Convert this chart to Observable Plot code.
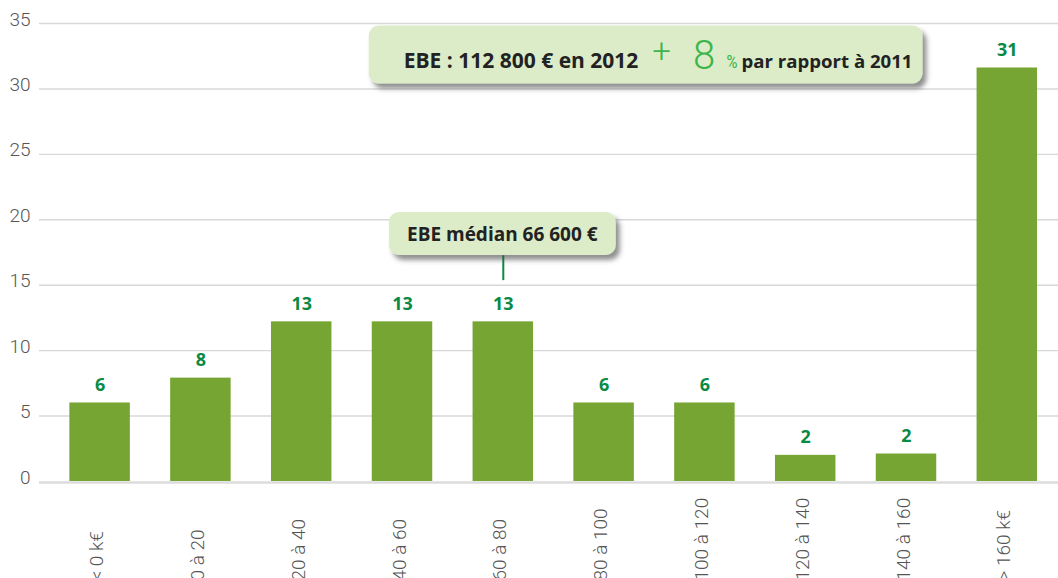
<!DOCTYPE html>
<html><head><meta charset="utf-8">
<script src="https://cdn.jsdelivr.net/npm/d3@7"></script>
<script src="https://cdn.jsdelivr.net/npm/@observablehq/plot@0.6"></script>
<style>
html,body{margin:0;padding:0;background:#fff;overflow:hidden}
</style></head><body><div id="chart"></div>
<script>
// ---- data ----
const categories = ["< 0 k€","0 à 20","20 à 40","40 à 60","60 à 80","80 à 100","100 à 120","120 à 140","140 à 160","> 160 k€"];
const barValues = [6.0, 7.9, 12.2, 12.2, 12.2, 6.0, 6.0, 2.0, 2.1, 31.6];
const valueLabels = ["6","8","13","13","13","6","6","2","2","31"];
const yTicks = [0,5,10,15,20,25,30,35];
const medianCategory = "60 à 80";
const medianLabel = "EBE médian 66 600 €";
const medianLabelY = 18.35;
const medianStem = [15.35, 17.25];
const headlineParts = ["EBE : 112 800 € en 2012", "+", "8", "%", "par rapport à 2011"];
const headlineCategory = "80 à 100";
const headlineY = 31.6;

const rows = categories.map((c, i) => ({cat: c, value: barValues[i], label: valueLabels[i]}));
const headlineText = headlineParts.join(" ");

const BAR = "#76a533", LABEL = "#0a8a44", GRID = "#d8d8d8", TICK = "#555";

const chart = Plot.plot({
  width: 1058, height: 578,
  marginLeft: 39, marginRight: 0, marginTop: 23, marginBottom: 97,
  style: {fontFamily: "Roboto", background: "#fff", overflow: "visible"},
  x: {domain: categories, range: [49.2, 1057.2], paddingInner: 0.4, paddingOuter: 0.2, round: false, axis: null},
  y: {domain: [0, 35], axis: null},
  marks: [
    Plot.ruleY(yTicks.filter(d => d > 0), {stroke: GRID, strokeWidth: 1.4}),
    Plot.ruleY([0], {stroke: "#dcdcdc", strokeWidth: 2.6, dy: 1}),
    Plot.axisY(yTicks, {label: null, tickSize: 0, tickPadding: 9, fontSize: 19, fontWeight: 300, fill: TICK, dy: -4, fontFamily: "Roboto"}),
    Plot.barY(rows, {x: "cat", y: "value", fill: BAR}),
    Plot.text(rows, {x: "cat", y: "value", text: "label", lineAnchor: "bottom", dy: -12,
      fill: LABEL, fontWeight: 700, fontSize: 18, fontFamily: "Open Sans"}),
    Plot.text(categories, {x: d => d, frameAnchor: "bottom", rotate: -90, textAnchor: "start", lineAnchor: "middle",
      dy: 99, dx: -3, fill: TICK, fontSize: 19, fontWeight: 300, fontFamily: "Roboto"}),
    Plot.ruleX([medianCategory], {x: d => d, y1: medianStem[0], y2: medianStem[1], stroke: LABEL, strokeWidth: 2}),
    Plot.text([medianLabel], {x: () => medianCategory, y: () => medianLabelY, text: d => d, lineAnchor: "bottom",
      dx: -1, fill: "#222", fontWeight: 700, fontSize: 19, fontFamily: "Open Sans"}),
    Plot.text([headlineText], {x: () => headlineCategory, y: () => headlineY, text: d => d, lineAnchor: "bottom",
      dx: 54, fill: "#222", fontWeight: 700, fontSize: 20, fontFamily: "Open Sans"})
  ]
});
document.getElementById("chart").append(chart);

// ---- annotation styling ----
const svg = d3.select(chart);
const defs = svg.insert("defs", ":first-child");
const f = defs.append("filter").attr("id", "shadow").attr("x", "-10%").attr("y", "-30%").attr("width", "130%").attr("height", "180%");
f.append("feDropShadow").attr("dx", 4).attr("dy", 5).attr("stdDeviation", 2.5).attr("flood-color", "#444").attr("flood-opacity", 0.6);

const yS = chart.scale("y");
const svgRect = chart.getBoundingClientRect();
const findText = s => svg.selectAll("text").filter(function() { return this.textContent === s; });

// headline tspans
const ht = findText(headlineText);
const mt = findText(medianLabel);
ht.text(null);
const GREEN = "#3db54a";
const parts = [
  {size: 21, weight: 700, fill: "#222", dx: 0, dy: 0},
  {size: 33, weight: 300, fill: GREEN, dx: 14, dy: -6},
  {size: 40, weight: 300, fill: GREEN, dx: 22, dy: 7},
  {size: 18, weight: 400, fill: GREEN, dx: 11, dy: -1},
  {size: 18.6, weight: 700, fill: "#222", dx: 4, dy: 0}
];
parts.forEach((p, i) => {
  ht.append("tspan").attr("dx", p.dx).attr("dy", p.dy).attr("font-size", p.size)
    .attr("font-weight", p.weight).attr("fill", p.fill)
    .attr("font-family", i === 1 || i === 2 ? "Roboto" : (i === 3 ? "Roboto Condensed, Roboto" : "Open Sans"))
    .text(headlineParts[i]);
});

function addBox(textSel, padL, padR, above, below, baselineVal) {
  const node = textSel.node();
  if (!node) return;
  const r = node.getBoundingClientRect();
  const base = yS.apply(baselineVal);
  const g = node.parentNode;
  svg.insert("rect", () => g)
    .attr("x", r.left - svgRect.left - padL)
    .attr("width", r.width + padL + padR)
    .attr("y", base - above)
    .attr("height", above + below)
    .attr("rx", 10).attr("fill", "#dcecc8")
    .attr("filter", "url(#shadow)");
}
addBox(ht, 35, 10, 42, 16, headlineY);
addBox(mt, 18, 18, 29, 14, medianLabelY);
</script></body></html>
